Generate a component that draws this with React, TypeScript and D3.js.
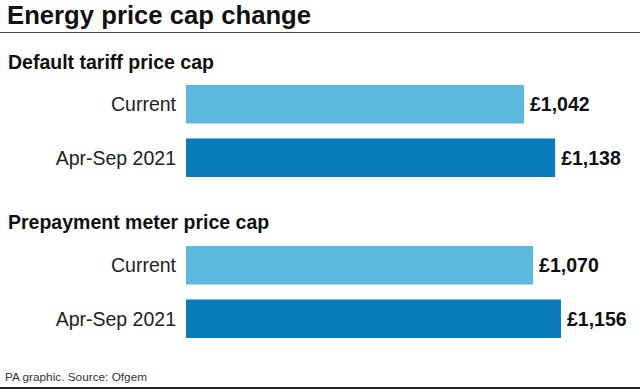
import React from 'react'
import { scaleLinear, scaleBand } from 'd3'

const categories = ['Current', 'Apr-Sep 2021']
const defaultTariff = [1042, 1138]
const prepayment = [1070, 1156]
const groupTitles = ['Default tariff price cap', 'Prepayment meter price cap']

const W = 640
const H = 390
const font = '"Liberation Sans", Arial, sans-serif'
const colors = ['#5bb8df', '#0a7bbb']

export default function App() {
    const x = scaleLinear().domain([0, 1156]).range([186, 561])
    const groups = [
        { title: groupTitles[0], values: defaultTariff, top: 85, head: 69 },
        { title: groupTitles[1], values: prepayment, top: 246, head: 229 },
    ]

    return (
        <svg
            width={W}
            height={H}
            style={{ position: 'absolute', left: 0, top: 0, background: '#fff' }}
            fontFamily={font}
        >
            <text x={7} y={24} fontSize={25.7} fontWeight='bold' fill='#111'>
                Energy price cap change
            </text>
            <line x1={0} x2={W} y1={32.5} y2={32.5} stroke='#444' strokeWidth={1.2} />

            {groups.map(g => {
                const y = scaleBand()
                    .domain(categories)
                    .range([g.top, g.top + 92])
                    .paddingInner(0.28)
                return (
                    <g key={g.title}>
                        <text x={8} y={g.head} fontSize={19.5} fontWeight='bold' fill='#111'>
                            {g.title}
                        </text>
                        {categories.map((c, i) => {
                            const yy = y(c) || 0
                            const mid = yy + y.bandwidth() / 2
                            return (
                                <g key={c}>
                                    <text
                                        x={176}
                                        y={mid}
                                        textAnchor='end'
                                        dominantBaseline='central'
                                        fontSize={19.5}
                                        fill='#222'
                                    >
                                        {c}
                                    </text>
                                    <rect
                                        x={x(0)}
                                        y={yy}
                                        width={x(g.values[i]) - x(0)}
                                        height={y.bandwidth()}
                                        fill={colors[i]}
                                    />
                                    <text
                                        x={x(g.values[i]) + 6}
                                        y={mid}
                                        dominantBaseline='central'
                                        fontSize={19.5}
                                        fontWeight='bold'
                                        fill='#111'
                                    >
                                        {'£' + g.values[i].toLocaleString('en-GB')}
                                    </text>
                                </g>
                            )
                        })}
                    </g>
                )
            })}

            <text x={5} y={381} fontSize={11.8} fill='#333'>
                PA graphic. Source: Ofgem
            </text>
            <line x1={0} x2={W} y1={388} y2={388} stroke='#222' strokeWidth={2} />
        </svg>
    )
}
